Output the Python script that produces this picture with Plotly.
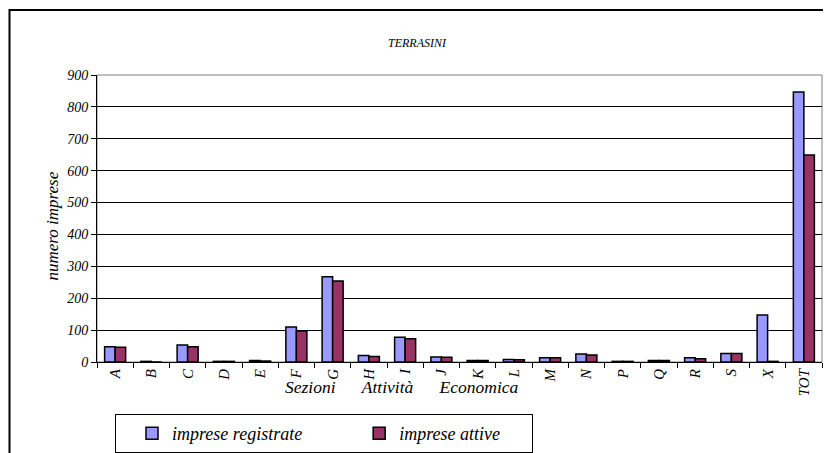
import plotly.graph_objects as go

sezioni = ['A', 'B', 'C', 'D', 'E', 'F', 'G', 'H', 'I', 'J', 'K', 'L', 'M',
           'N', 'P', 'Q', 'R', 'S', 'X', 'TOT']
registrate = [48, 2, 53, 2, 5, 110, 267, 20, 78, 16, 5, 8, 13, 25, 2, 5, 13, 27, 147, 847]
attive = [46, 0, 48, 2, 3, 97, 254, 17, 73, 15, 5, 7, 13, 22, 2, 5, 10, 27, 2, 649]
y_ticks = [0, 100, 200, 300, 400, 500, 600, 700, 800, 900]

serif = 'Liberation Serif, Times New Roman, serif'

fig = go.Figure()
fig.add_trace(go.Bar(x=sezioni, y=registrate,
                     name='imprese registrate' + '&nbsp;' * 8,
                     marker=dict(color='#9999FF', line=dict(color='black', width=1.5))))
fig.add_trace(go.Bar(x=sezioni, y=attive,
                     name='imprese attive' + '&nbsp;' * 6,
                     marker=dict(color='#993366', line=dict(color='black', width=1.5))))

# page body adds an 8px margin, so the figure is shifted by OFF
OFF = 8
W, H = 831 - OFF, 453 - OFF
L, R, T, B = 97 - OFF, 9, 75 - OFF, 91
pw, ph = W - L - R, H - T - B

def px_x(x):
    return (x - OFF - L) / pw

def px_y(y):
    return (H + OFF - B - y) / ph

fig.update_layout(
    width=W, height=H,
    margin=dict(l=L, r=R, t=T, b=B),
    paper_bgcolor='white', plot_bgcolor='white',
    font=dict(family=serif, size=13, color='black', style='italic'),
    barmode='group', bargap=0.42, bargroupgap=0,
    title=dict(text='TERRASINI', x=(417 - OFF) / W, xref='container',
               y=1 - (43 - OFF) / H, xanchor='center', yanchor='middle',
               font=dict(size=12, family=serif, style='italic')),
    showlegend=True,
    legend=dict(orientation='h', xref='container', yref='container',
                x=(115 - OFF) / W, y=1 - (414 - OFF) / H, xanchor='left', yanchor='top',
                bordercolor='black', borderwidth=1, bgcolor='white',
                font=dict(size=18, family=serif, style='italic'),
                indentation=16, itemwidth=30, tracegroupgap=0,
                traceorder='normal'),
    xaxis=dict(type='category', tickson='boundaries', ticks='outside', ticklen=5,
               tickcolor='black', tickangle=-90, showline=True, linecolor='black',
               linewidth=1, showgrid=False, automargin=False,
               tickfont=dict(size=15, family=serif, style='italic')),
    yaxis=dict(range=[0, 900], tickvals=y_ticks, ticks='outside', ticklen=5,
               tickcolor='black', showline=True, linecolor='black', linewidth=1,
               showgrid=True, gridcolor='black', gridwidth=1, zeroline=False,
               automargin=False,
               tickfont=dict(size=14, family=serif, style='italic')),
)

# plot area border (gray) and chart area border
fig.add_shape(type='rect', xref='paper', yref='paper', x0=0, x1=1, y0=0, y1=1,
              line=dict(color='#808080', width=1), layer='below')
fig.add_shape(type='rect', xref='paper', yref='paper', x0=px_x(9.5), x1=px_x(900),
              y0=px_y(500), y1=px_y(10), line=dict(color='black', width=2))

fig.add_annotation(text='numero imprese', xref='paper', yref='paper', x=px_x(40),
                   y=px_y(226), textangle=-90, showarrow=False,
                   font=dict(size=17, family=serif, style='italic'))
fig.add_annotation(text='Sezioni&nbsp;&nbsp;&nbsp;&nbsp;&nbsp;&nbsp;Attività&nbsp;&nbsp;&nbsp;&nbsp;&nbsp;&nbsp;Economica',
                   xref='paper', yref='paper', x=px_x(402), y=px_y(399),
                   showarrow=False, font=dict(size=17.5, family=serif, style='italic'))

fig.write_html('out.html')
